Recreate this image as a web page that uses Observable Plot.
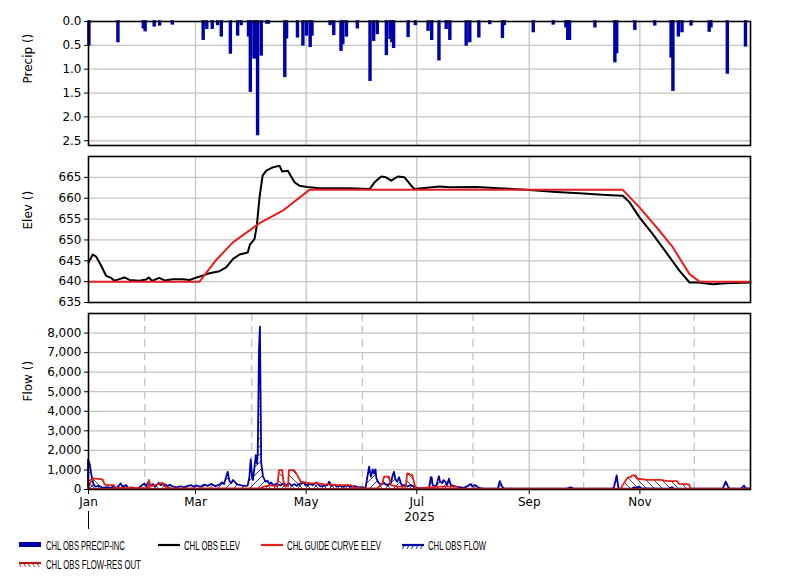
<!DOCTYPE html>
<html><head><meta charset="utf-8">
<script src="https://cdn.jsdelivr.net/npm/d3@7"></script>
<script src="https://cdn.jsdelivr.net/npm/@observablehq/plot@0.6"></script>
<style>
body{margin:0;background:#fff}
#chart{position:relative;width:801px;height:580px;background:#fff;overflow:hidden}
#chart svg.panel{position:absolute;left:0}
</style></head><body>
<svg width="0" height="0" style="position:absolute">
<defs>
<pattern id="hatchBlue" patternUnits="userSpaceOnUse" width="8" height="8">
<path d="M-2,2 L2,-2 M0,8 L8,0 M6,10 L10,6" stroke="#00006e" stroke-width="0.8"/>
</pattern>
<pattern id="hatchRed" patternUnits="userSpaceOnUse" width="8" height="8">
<path d="M-2,6 L2,10 M0,0 L8,8 M6,-2 L10,2" stroke="#2a0a0a" stroke-width="0.8"/>
</pattern>
</defs></svg>
<div id="chart"></div>
<script>
// ---------- DATA (day offset from 2025-01-01, value) ----------
const precipBars = [[0,0.5],[16,0.43],[30,0.14],[31,0.2],[36,0.1],[39,0.08],[46,0.06],[63,0.38],[65,0.15],[68,0.15],[71,0.07],[73,0.31],[78,0.67],[82,0.29],[84,0.07],[88,0.31],[89,1.47],[91,0.77],[92,0.77],[93,2.38],[95,0.71],[98,0.04],[99,0.04],[108,1.16],[109,0.35],[115,0.33],[118,0.5],[120,0.29],[122,0.53],[123,0.29],[133,0.07],[135,0.28],[139,0.61],[140,0.47],[142,0.31],[148,0.14],[155,1.24],[157,0.4],[159,0.26],[164,0.7],[166,0.36],[167,0.43],[168,0.55],[176,0.32],[180,0.07],[187,0.19],[189,0.38],[193,0.81],[197,0.15],[199,0.38],[208,0.5],[210,0.43],[215,0.33],[221,0.05],[228,0.34],[229,0.07],[245,0.22],[256,0.06],[263,0.12],[264,0.38],[265,0.38],[279,0.12],[290,0.85],[291,0.66],[301,0.17],[312,0.08],[321,0.75],[322,1.45],[325,0.31],[327,0.22],[332,0.08],[342,0.21],[343,0.12],[352,1.09],[362,0.52]];

const obsElev = [[0,644.6],[2.4,646.5],[4.2,646.0],[7,643.8],[9.7,641.4],[12.5,640.9],[14.3,640.2],[17,640.6],[19.8,641],[22.6,640.4],[28,640.2],[31.8,640.5],[33.2,641],[35,640.2],[39,640.9],[42,640.3],[46.5,640.6],[52,640.6],[55.7,640.4],[58.4,640.8],[61.2,641.2],[66.7,642.0],[72.2,642.5],[75.9,643.4],[79.6,645.4],[83.3,646.5],[87.8,647],[89,648.9],[91.5,650.2],[92.8,653.4],[94.3,660.2],[96,665.4],[98,666.6],[101.6,667.4],[105.3,667.8],[106.8,666.4],[109.9,666.6],[113.6,663.8],[116.3,663],[121.8,662.6],[127.4,662.4],[134.7,662.4],[143.9,662.4],[155,662.2],[157.7,663.8],[161.4,665.2],[164,665],[166.9,664.2],[170.5,665.2],[174.2,665],[178.8,662.6],[179.7,662.2],[193.5,662.8],[199,662.6],[213.8,662.7],[226.6,662.4],[241.3,662],[257.9,661.5],[270.7,661.2],[285.4,660.8],[294.6,660.6],[298.3,659],[303.8,655.4],[311.1,651.4],[318.5,647],[325.9,642.6],[331.4,639.8],[336,639.8],[344.2,639.4],[351.6,639.6],[365,639.8]];

const guideCurve = [[0,640],[61.2,640],[70,645],[79.6,649.4],[94.3,654],[107.1,657],[121.8,662],[294.6,662],[303.8,657.8],[314.8,652.2],[322.2,648.2],[331.4,641.8],[336.9,640],[365,640]];

const obsFlow = [[0,1500],[1,1250],[2,650],[3,250],[4,120],[6,160],[8,60],[10,100],[12,50],[14,120],[16,60],[18,290],[19,120],[21,200],[22,60],[24,80],[26,40],[28,60],[30,200],[31,280],[32,150],[33,320],[34,180],[36,250],[37,120],[39,320],[40,200],[42,260],[44,150],[45,220],[47,120],[49,80],[51,140],[53,85],[55,160],[57,200],[58,120],[60,180],[62,110],[64,220],[66,160],[68,260],[70,150],[72,200],[74,330],[75,250],[77,880],[78,400],[79,300],[80,460],[82,250],[84,200],[86,160],[88,170],[89,600],[89.7,1510],[90.5,600],[91,460],[92.5,1730],[93.2,1300],[93.6,1840],[94.3,7200],[94.8,8300],[95.5,1330],[96.5,630],[97.5,450],[98,370],[99,420],[100,250],[101,330],[102,200],[104,260],[106,180],[108,300],[109,200],[111,290],[112,180],[114,250],[115,160],[117,280],[119,320],[120,180],[122,260],[124,200],[126,330],[128,140],[130,150],[132,200],[133,380],[134,160],[136,220],[137,120],[139,180],[141,100],[143,200],[145,110],[147,150],[149,80],[151,90],[152,70],[153,40],[154,600],[155,1140],[156,630],[157,1000],[157.7,800],[158.5,1000],[159,540],[160,350],[161.5,200],[163,300],[165,200],[167,300],[168,700],[168.7,880],[169.5,500],[170.5,370],[171.5,600],[172.5,300],[173,200],[175,200],[176,120],[178,200],[180,120],[182,40],[188,30],[189,610],[189.5,600],[190,200],[190.5,175],[192,150],[193.5,650],[194,400],[195.3,300],[196,450],[197.2,350],[198,200],[199,525],[200,200],[201,175],[203,120],[205,90],[207,60],[209,130],[211,260],[212,120],[213,200],[214,175],[215,80],[216.5,50],[218,30],[226,20],[227,400],[228.5,90],[229.5,30],[235,20],[264,20],[266,90],[268,20],[289,20],[290,90],[291.5,700],[292.5,20],[300,30],[301,90],[302,60],[304,120],[305,40],[308,35],[320,20],[322,90],[323,20],[350,20],[351.6,385],[353,90],[354,20],[360,20],[361.7,175],[362.5,40],[363.5,35],[365,30]];

const resOutFlow = [[0,30],[2,480],[3,540],[8,490],[9.2,240],[10.7,200],[14.3,200],[15,60],[23,50],[33,40],[33.6,460],[34.5,120],[41,320],[42.8,120],[45.6,35],[95,35],[97,120],[100.7,200],[104.4,120],[105.3,970],[107.1,970],[108,200],[110.3,120],[110.8,970],[113.6,970],[115.4,710],[117.3,370],[122.8,290],[126.4,290],[130,250],[137.5,200],[144.8,200],[146.7,70],[152,35],[159.5,35],[162.3,290],[163.2,630],[166,630],[166.9,200],[170.5,120],[175.2,120],[176,800],[178.8,710],[180.6,35],[194.4,120],[203.6,120],[204.5,20],[293.7,20],[295.5,300],[297.4,580],[299.2,610],[300.1,700],[302,700],[302.9,525],[308.4,470],[315.8,470],[319.4,400],[324.9,400],[325.9,260],[331.4,230],[332.3,20],[365,20]];

const precipTicks = [0, 0.5, 1.0, 1.5, 2.0, 2.5];
const elevTicks = [635, 640, 645, 650, 655, 660, 665];
const flowTicks = [0, 1000, 2000, 3000, 4000, 5000, 6000, 7000, 8000];
const yearLabel = "2025";
const legendLabels = ["CHL OBS PRECIP-INC", "CHL OBS ELEV", "CHL GUIDE CURVE ELEV", "CHL OBS FLOW", "CHL OBS FLOW-RES OUT"];

// ---------- helpers ----------
const T0 = Date.UTC(2025, 0, 1), T1 = Date.UTC(2026, 0, 1);
const dayToDate = d => new Date(T0 + d * 864e5);
const asSeries = arr => arr.map(([d, v]) => ({date: dayToDate(d), v}));
const precipData = precipBars.map(([d, v]) => ({x1: dayToDate(d), x2: dayToDate(d + 1), v}));

const NAVY = "#0000a8", RED = "#e41e1e", GRID = "#c4c4c4";
const oddMonths = d3.utcMonth.every(2).range(new Date(T0), new Date(T1));
const gridMonths = oddMonths.slice(1);
const evenMonths = d3.utcMonth.range(new Date(T0), new Date(T1)).filter(d => d.getUTCMonth() % 2 === 1);

const common = {
  width: 801, marginLeft: 88, marginRight: 51,
  x: {type: "utc", domain: [new Date(T0), new Date(T1)], axis: null},
  style: {fontFamily: "DejaVu Sans", fontSize: "12px", color: "#000", background: "transparent", overflow: "visible"}
};
const gridStyle = {stroke: GRID, strokeOpacity: 1, strokeWidth: 1.3};
const yAxisStyle = {tickSize: 4, tickPadding: 3, label: null, fontSize: 12};
const yLabel = (txt) => Plot.text([txt], {frameAnchor: "left", rotate: -90, dx: -60, fontSize: 12, fill: "#000"});
const frame = Plot.frame({stroke: "#000", strokeWidth: 1.6});

const chart = document.getElementById("chart");
function place(svg, top) { svg.classList.add("panel"); svg.style.top = top + "px"; chart.appendChild(svg); }

// Panel 1: precipitation
place(Plot.plot({
  ...common, height: 150, marginTop: 21, marginBottom: 5,
  y: {domain: [0, 2.6], reverse: true, axis: null},
  marks: [
    Plot.gridY({ticks: precipTicks.slice(1), ...gridStyle}),
    Plot.gridX({ticks: gridMonths, ...gridStyle}),
    Plot.rectY(precipData, {x1: "x1", x2: "x2", y: "v", fill: NAVY, stroke: NAVY, strokeWidth: 1.6}),
    Plot.axisY({ticks: precipTicks, tickFormat: d3.format(".1f"), ...yAxisStyle}),
    yLabel("Precip ()"),
    frame
  ]
}), 0);

// Panel 2: elevation
place(Plot.plot({
  ...common, height: 156, marginTop: 6, marginBottom: 4,
  y: {domain: [635, 670], axis: null},
  marks: [
    Plot.gridY({ticks: elevTicks.slice(1), ...gridStyle}),
    Plot.gridX({ticks: gridMonths, ...gridStyle}),
    Plot.line(asSeries(obsElev), {x: "date", y: "v", stroke: "#000", strokeWidth: 2}),
    Plot.line(asSeries(guideCurve), {x: "date", y: "v", stroke: RED, strokeWidth: 2}),
    Plot.axisY({ticks: elevTicks, tickFormat: d => String(d), ...yAxisStyle}),
    yLabel("Elev ()"),
    frame
  ]
}), 150);

// Panel 3: flow
place(Plot.plot({
  ...common, height: 230, marginTop: 7, marginBottom: 47,
  y: {domain: [0, 9000], axis: null},
  marks: [
    Plot.gridY({ticks: flowTicks.slice(1), ...gridStyle}),
    Plot.gridX({ticks: gridMonths, ...gridStyle}),
    Plot.gridX({ticks: evenMonths, ...gridStyle, strokeDasharray: "8,5"}),
    Plot.areaY(asSeries(obsFlow), {x: "date", y: "v", fill: "url(#hatchBlue)", stroke: NAVY, strokeWidth: 1.8}),
    Plot.areaY(asSeries(resOutFlow), {x: "date", y: "v", fill: "url(#hatchRed)", stroke: RED, strokeWidth: 1.8}),
    Plot.axisY({ticks: flowTicks, tickFormat: d3.format(","), ...yAxisStyle}),
    Plot.axisX({ticks: oddMonths, tickFormat: d3.utcFormat("%b"), tickSize: 5, tickPadding: 3, label: null, fontSize: 12}),
    Plot.axisX({ticks: [new Date(T0)], tickFormat: () => "", tickSize: 18, dy: 22, label: null}),
    Plot.text([yearLabel], {x: [new Date((T0 + T1) / 2)], frameAnchor: "bottom", dy: 31, fontSize: 12, fill: "#000"}),
    yLabel("Flow ()"),
    frame
  ]
}), 306);

// Legend
const leg = d3.create("svg").attr("width", 801).attr("height", 46).attr("class", "panel").style("top", "532px");
chart.appendChild(leg.node());
const items = [
  {kind: "bar", sx: 19, tx: 46, row: 0, w: 79, color: NAVY},
  {kind: "line", sx: 158, tx: 184, row: 0, w: 56, color: "#000"},
  {kind: "line", sx: 261, tx: 287, row: 0, w: 94, color: RED},
  {kind: "hatch", sx: 402, tx: 428, row: 0, w: 58, color: NAVY, hatch: "/"},
  {kind: "hatch", sx: 19, tx: 46, row: 1, w: 95, color: "#b01818", hatch: "\\"}
];
items.forEach((it, i) => {
  const cy = it.row === 0 ? 13 : 31;
  const base = it.row === 0 ? 17.5 : 36.5;
  const g = leg.append("g");
  if (it.kind === "bar") {
    g.append("rect").attr("x", it.sx).attr("y", cy - 3).attr("width", 22).attr("height", 5).attr("fill", it.color);
  } else {
    g.append("line").attr("x1", it.sx).attr("x2", it.sx + 22).attr("y1", cy).attr("y2", cy)
      .attr("stroke", it.color).attr("stroke-width", 2.2);
    if (it.kind === "hatch") {
      for (let k = 0; k < 5; k++) {
        const x = it.sx + 2 + k * 4.5;
        g.append("line").attr("x1", it.hatch === "/" ? x : x - 1.5).attr("x2", it.hatch === "/" ? x - 1.5 : x)
          .attr("y1", cy + 1).attr("y2", cy + 4).attr("stroke", it.color).attr("stroke-width", 0.9);
      }
    }
  }
  const t = g.append("text").attr("x", 0).attr("y", 0).text(legendLabels[i])
    .attr("font-family", "Liberation Sans Narrow, Liberation Sans, sans-serif").attr("font-size", 12)
    .attr("fill", "#000");
  const natural = t.node().getComputedTextLength() || it.w;
  t.attr("transform", `translate(${it.tx},${base}) scale(${it.w / natural},1)`);
});
</script>
</body></html>
